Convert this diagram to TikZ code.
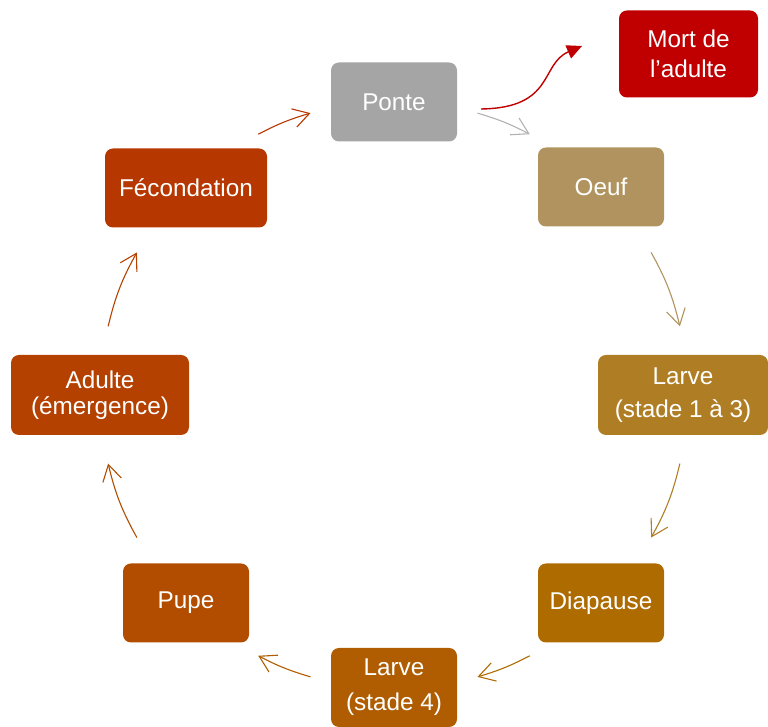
\documentclass[tikz,border=0pt]{standalone}
\usepackage{fontspec}
\setmainfont{Liberation Sans}
\usetikzlibrary{calc, arrows.meta}

\definecolor{cPonte}{HTML}{A5A5A5}
\definecolor{cOeuf}{HTML}{B0935E}
\definecolor{cLarveA}{HTML}{AF7E24}
\definecolor{cDiapause}{HTML}{AE6C00}
\definecolor{cLarveB}{HTML}{AF5D00}
\definecolor{cPupe}{HTML}{B24D00}
\definecolor{cAdulte}{HTML}{B54100}
\definecolor{cFecond}{HTML}{B73700}
\definecolor{cMort}{HTML}{C00000}

\begin{document}
\begin{tikzpicture}[x=1pt, y=1pt,
	stage/.style={rounded corners=8pt, text=white, align=center, inner sep=0pt,
		minimum width=126pt, minimum height=79pt, font=\fontsize{24.3}{27}\selectfont},
	cyc/.style={line width=1.1pt, -{Straight Barb[length=16pt, width=19pt]}}]

	\useasboundingbox (0,0) rectangle (768,727);
	\coordinate (c) at (394,332);

	\node[stage, fill=cPonte] (ponte) at (394,625) {Ponte};
	\node[stage, fill=cOeuf] (oeuf) at (601,540) {Oeuf};
	\node[stage, fill=cLarveA, minimum width=170pt, minimum height=80pt] (larveA) at (683,332) {Larve\\[6pt](stade 1 à 3)};
	\node[stage, fill=cDiapause] (diapause) at (601,124) {Diapause};
	\node[stage, fill=cLarveB] (larveB) at (394,39.5) {Larve\\[8pt](stade 4)};
	\node[stage, fill=cPupe] (pupe) at (186,124) {Pupe};
	\node[stage, fill=cAdulte, minimum width=178pt, minimum height=80pt] (adulte) at (100,332) {Adulte\\[-1pt](émergence)};
	\node[stage, fill=cFecond, minimum width=162pt] (fecond) at (186,539) {Fécondation};
	\node[stage, fill=cMort, minimum width=139pt, minimum height=87pt] (mort) at (688.5,673) {Mort de\\[3pt]l’adulte};

	% arrows of the cycle, on a circle round (c)
	\coordinate (a1s) at ($(c)+(73.5:294)$);   \coordinate (a1e) at ($(c)+(62.5:294)$);
	\coordinate (a2s) at ($(c)+(29:294)$);     \coordinate (a2e) at ($(c)+(13.5:294)$);
	\coordinate (a3s) at ($(c)+(-13.5:294)$);  \coordinate (a3e) at ($(c)+(-29:294)$);
	\coordinate (a4s) at ($(c)+(-62.5:294)$);  \coordinate (a4e) at ($(c)+(-73.5:294)$);
	\coordinate (a5s) at ($(c)+(-106.5:294)$); \coordinate (a5e) at ($(c)+(-117.5:294)$);
	\coordinate (a6s) at ($(c)+(-151:294)$);   \coordinate (a6e) at ($(c)+(-166.5:294)$);
	\coordinate (a7s) at ($(c)+(166.5:294)$);  \coordinate (a7e) at ($(c)+(151:294)$);
	\coordinate (a8s) at ($(c)+(117.5:294)$);  \coordinate (a8e) at ($(c)+(106.5:294)$);

	\draw[cyc, cPonte!85!white] (a1s) to[bend left=5.5] (a1e);
	\draw[cyc, cOeuf] (a2s) to[bend left=7.75] (a2e);
	\draw[cyc, cLarveA] (a3s) to[bend left=7.75] (a3e);
	\draw[cyc, cDiapause] (a4s) to[bend left=5.5] (a4e);
	\draw[cyc, cLarveB] (a5s) to[bend left=5.5] (a5e);
	\draw[cyc, cPupe] (a6s) to[bend left=7.75] (a6e);
	\draw[cyc, cAdulte] (a7s) to[bend left=7.75] (a7e);
	\draw[cyc, cFecond] (a8s) to[bend left=5.5] (a8e);

	% out of the cycle
	\coordinate (r0) at (481,618);
	\coordinate (r1) at (582,681);
	\draw[cMort, line width=1.4pt, -{Triangle[length=15pt, width=14pt]}] (r0) .. controls (555,619) and (540,663) .. (r1);
\end{tikzpicture}
\end{document}
